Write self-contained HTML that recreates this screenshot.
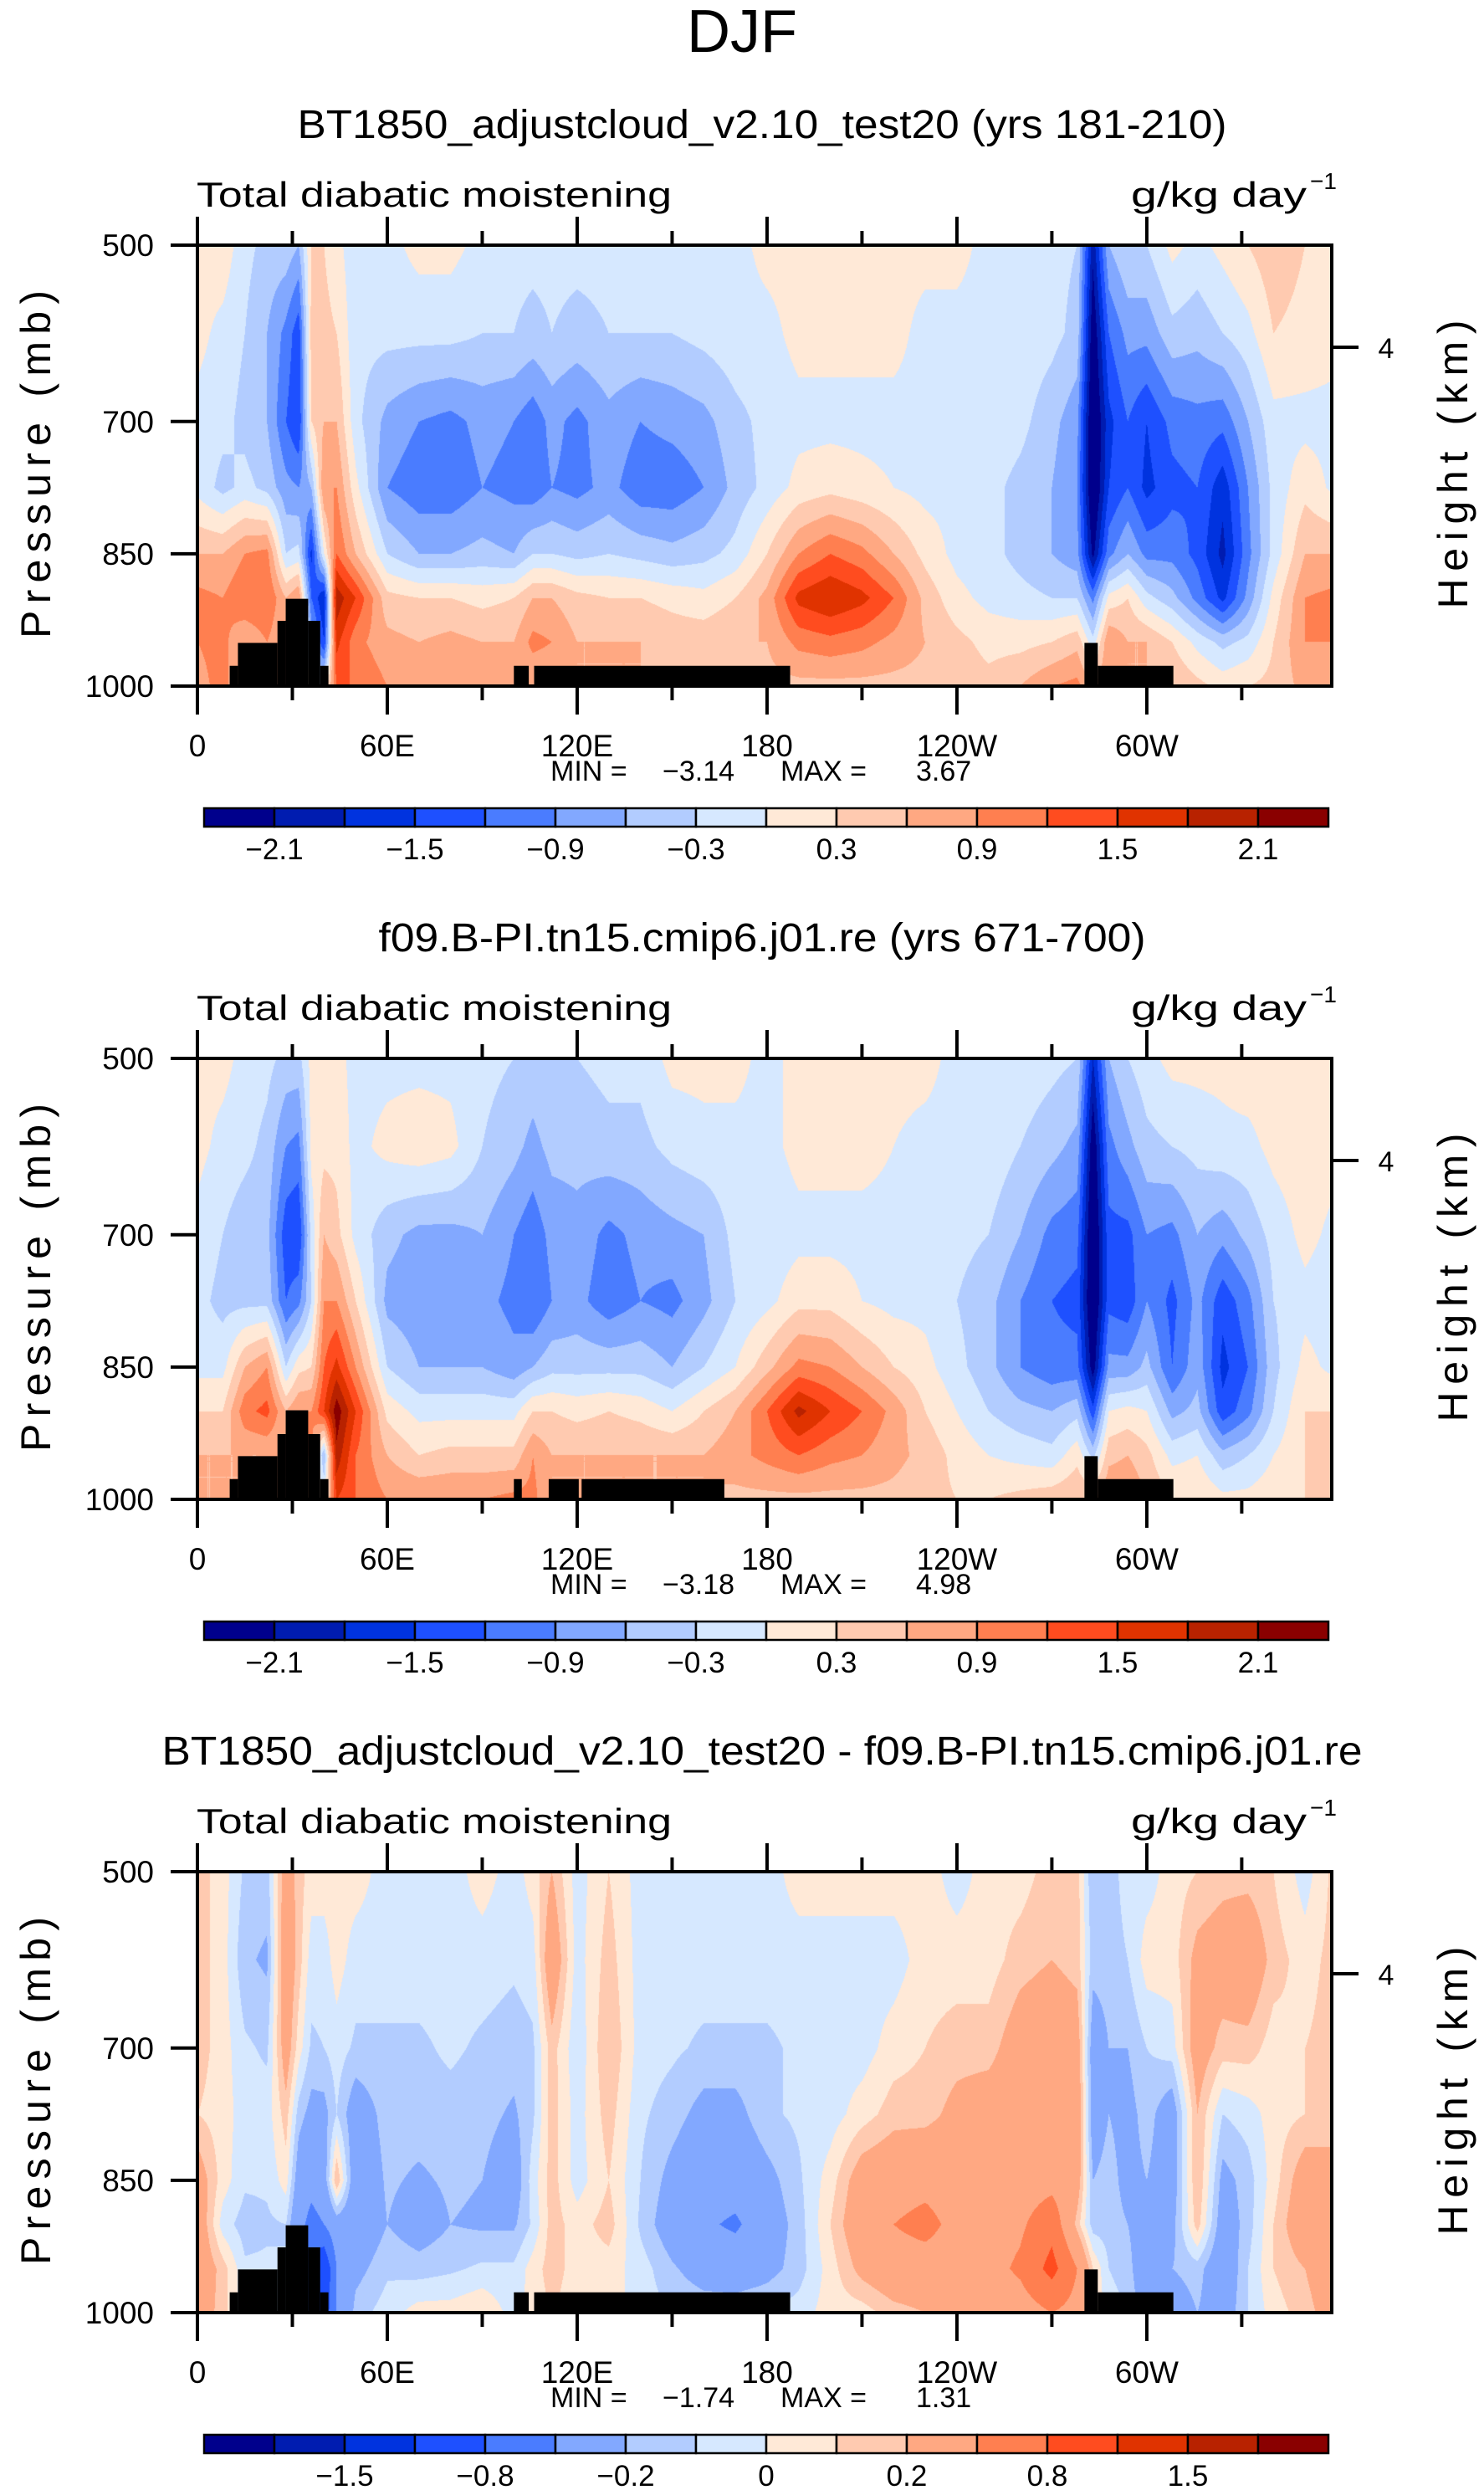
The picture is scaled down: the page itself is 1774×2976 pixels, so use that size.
<!DOCTYPE html>
<html><head><meta charset="utf-8">
<style>
html,body{margin:0;padding:0;background:#fff;}
body{position:relative;width:1774px;height:2976px;overflow:hidden;font-family:"Liberation Sans",sans-serif;}
canvas{position:absolute;}
svg{position:absolute;left:0;top:0;}
</style></head>
<body>
<canvas id="c0" width="1356" height="527" style="left:236px;top:293px"></canvas>
<canvas id="c1" width="1356" height="527" style="left:236px;top:1265px"></canvas>
<canvas id="c2" width="1356" height="527" style="left:236px;top:2237px"></canvas>
<svg id="ov" width="1774" height="2976" xmlns="http://www.w3.org/2000/svg">
<text x="887" y="62" text-anchor="middle" font-size="72" font-family="Liberation Sans, sans-serif" fill="#000">DJF</text>
</svg>
<script>
const LONS=[0,8,15,22,28,32,36,40,44,50,60,70,80,90,100,106,112,120,130,140,150,160,170,180,190,200,210,220,230,240,250,260,270,278,283,288,294,300,308,316,324,332,340,350,360];
const PRES=[500,600,700,775,850,900,950,1000];
const VALS_TOP=[
[0.1,0.1,-0.1,-0.1,0.6,1.0,0.9,0.8],
[0.2,-0.1,-0.2,-0.4,0.6,0.9,1.0,1.0],
[-0.2,-0.3,-0.4,-0.2,0.9,1.2,0.6,0.6],
[-0.4,-0.6,-0.6,-0.4,1.0,1.2,0.9,0.6],
[-0.4,-1.0,-1.2,-0.8,-0.3,0.6,0.6,0.6],
[-0.6,-1.4,-1.5,-0.9,-0.2,0.9,1.0,0.6],
[0.3,0.4,0.3,-0.6,-1.6,-1.2,-0.6,0],
[0.3,0.4,0.6,0.9,0,-1.8,-1.5,0],
[0.1,0.3,0.6,0.9,1.2,2.0,1.6,1.2],
[-0.2,-0.2,-0.2,0.1,0.6,1.5,1.0,1.2],
[-0.1,-0.2,-0.7,-0.9,-0.3,0.4,0.7,0.9],
[0.1,-0.2,-0.9,-1.1,-0.6,0.3,0.6,0.9],
[0.1,-0.2,-1.0,-1.1,-0.6,0.3,0.7,0.9],
[-0.1,-0.3,-0.8,-0.9,-0.5,0.2,0.6,0.9],
[-0.2,-0.3,-0.9,-1.0,-0.6,0.3,0.6,0.9],
[-0.2,-0.4,-1.1,-1.1,-0.3,0.6,1.0,0.6],
[-0.2,-0.3,-0.8,-0.9,-0.3,0.6,0.9,0.6],
[-0.2,-0.4,-1.0,-1.0,-0.4,0.4,0.6,0.6],
[-0.2,-0.3,-0.7,-0.8,-0.3,0.3,0.6,0.6],
[-0.2,-0.3,-0.9,-1.1,-0.4,0.3,0.6,0.6],
[-0.2,-0.3,-0.8,-1.1,-0.5,0.2,0.5,0.6],
[-0.1,-0.2,-0.7,-0.9,-0.4,0.1,0.5,0.6],
[-0.1,-0.1,-0.4,-0.5,-0.2,0.3,0.6,0.6],
[0.1,-0.1,-0.2,-0.2,0.3,0.7,0.6,0.5],
[0.1,0.1,-0.1,0.1,0.9,1.6,1.0,0.5],
[0.2,0.1,-0.1,0.2,1.2,1.8,1.1,0.5],
[0.1,0.1,-0.1,0.1,1.0,1.6,1.0,0.5],
[0.1,0.1,-0.1,0,0.6,1.2,0.8,0.5],
[0.1,-0.1,-0.1,-0.1,0.2,0.5,0.6,0.5],
[0.1,-0.1,-0.1,-0.1,-0.1,0.1,0.4,0.5],
[-0.1,-0.1,-0.1,-0.2,-0.2,-0.1,0.2,0.4],
[-0.1,-0.1,-0.2,-0.4,-0.4,-0.2,0.2,0.6],
[-0.2,-0.2,-0.5,-0.6,-0.6,-0.3,0.3,0.9],
[-0.3,-0.4,-0.8,-0.9,-0.8,-0.3,0.5,1.0],
[-2.0,-2.4,-2.6,-2.6,-2.2,-1.0,-0.2,0.6],
[-0.6,-1.2,-1.6,-1.5,-1.0,0.1,0.9,0.9],
[-0.3,-0.8,-1.2,-1.2,-0.6,0.3,0.6,0.6],
[-0.3,-0.8,-1.5,-1.6,-1.0,-0.2,0.6,0.6],
[0.1,-0.4,-1.1,-1.3,-1.0,-0.5,0.3,0.6],
[-0.1,-0.5,-1.0,-1.2,-1.3,-1.0,-0.1,0.4],
[0.1,-0.3,-1.1,-1.7,-1.9,-1.6,-0.4,0.2],
[0.3,-0.1,-0.6,-0.9,-1.0,-0.8,-0.2,0.3],
[0.5,0.3,-0.1,-0.2,-0.2,0.1,0.3,0.4],
[0.3,0.2,-0.1,0.2,0.6,0.9,0.9,0.7],
[0.1,0.1,-0.1,-0.1,0.6,1.0,0.9,0.8]];
const VALS_MID=[
[0.1,0.1,-0.1,-0.2,-0.1,0.3,0.6,0.6],
[0.1,-0.1,-0.3,-0.4,-0.1,0.3,0.6,0.6],
[-0.1,-0.2,-0.5,-0.4,0.6,1.1,0.6,0.6],
[-0.2,-0.4,-0.5,-0.4,0.9,1.3,0.6,0.6],
[-0.4,-0.9,-1.4,-1.2,-0.3,0.6,0.6,0.6],
[-0.4,-1.0,-1.5,-1.0,0.2,0.9,0.6,0.6],
[0.1,0.1,-0.2,-0.3,0.3,0.9,1.0,0.6],
[0.1,0.2,0.6,0.9,1.2,1.5,-0.6,0],
[0.1,0.2,0.4,0.9,1.6,2.3,2.0,1.5],
[-0.1,-0.1,-0.1,0.3,0.9,1.5,1.2,1.2],
[-0.1,0.1,-0.5,-0.7,-0.3,0.2,0.6,0.9],
[-0.1,0.2,-0.7,-0.8,-0.6,-0.1,0.3,0.9],
[-0.1,0.1,-0.7,-0.8,-0.6,-0.1,0.4,0.9],
[-0.2,-0.3,-0.6,-0.8,-0.6,-0.1,0.4,0.9],
[-0.3,-0.5,-0.9,-1.0,-0.8,-0.1,0.4,1.0],
[-0.4,-0.7,-1.1,-1.2,-0.6,0.3,0.9,1.0],
[-0.3,-0.5,-0.8,-0.9,-0.4,0.3,0.6,0.6],
[-0.3,-0.5,-0.7,-0.8,-0.4,0.2,0.6,0.6],
[-0.2,-0.4,-1.0,-1.1,-0.4,0.3,0.6,0.6],
[-0.2,-0.4,-0.8,-0.9,-0.4,0.2,0.6,0.6],
[0.1,-0.2,-0.7,-1.0,-0.6,0,0.6,0.6],
[0.1,-0.1,-0.6,-0.7,-0.3,0.3,0.6,0.6],
[0.1,-0.1,-0.2,-0.3,0,0.6,0.8,0.5],
[-0.1,-0.1,-0.2,-0.1,0.5,1.2,1.0,0.5],
[0.1,0.1,-0.1,0.2,1.0,1.9,1.2,0.5],
[0.1,0.1,-0.1,0.2,0.9,1.5,1.0,0.5],
[0.1,0.1,-0.1,0,0.6,1.2,0.9,0.5],
[0.1,0,-0.1,-0.1,0.3,0.8,0.7,0.5],
[0.1,-0.1,-0.1,-0.1,0.1,0.3,0.5,0.4],
[-0.1,-0.1,-0.2,-0.3,-0.2,0,0.2,0.3],
[-0.1,-0.1,-0.3,-0.5,-0.5,-0.3,0,0.3],
[-0.1,-0.3,-0.6,-0.9,-0.9,-0.5,-0.1,0.4],
[-0.2,-0.5,-1.0,-1.2,-1.1,-0.6,-0.2,0.5],
[-0.3,-0.7,-1.1,-1.3,-1.1,-0.4,0.2,0.6],
[-1.8,-2.4,-2.6,-2.6,-2.3,-1.4,-0.4,0.6],
[-0.6,-1.0,-1.3,-1.3,-0.8,0,0.5,0.9],
[-0.3,-0.7,-1.3,-1.4,-0.8,0.1,0.6,0.9],
[-0.1,-0.4,-0.9,-0.9,-0.5,0,0.4,0.6],
[0.1,-0.3,-1.0,-1.3,-1.2,-0.7,-0.1,0.3],
[0.1,-0.2,-0.6,-0.8,-0.7,-0.5,0,0.3],
[0.1,-0.1,-0.8,-1.4,-1.6,-1.4,-0.5,0.1],
[0.2,-0.1,-0.5,-1.0,-1.2,-1.0,-0.3,0.1],
[0.2,0.1,-0.2,-0.3,-0.4,-0.3,0,0.2],
[0.3,0.2,0.1,-0.1,0.1,0.3,0.3,0.3],
[0.1,0.1,-0.1,-0.2,-0.1,0.3,0.6,0.6]];
const VALS_DIFF=[
[0.15,0.15,0.15,0.1,0.3,0.35,0.35,0.3],
[0.05,0.05,0.05,0.05,0.05,-0.05,0.15,0.15],
[-0.12,-0.18,-0.08,-0.05,-0.08,-0.15,-0.08,-0.08],
[-0.15,-0.22,-0.12,-0.05,-0.08,-0.12,-0.08,-0.08],
[0.3,0.35,0.3,0.15,0.05,-0.1,-0.1,-0.1],
[0.15,0.15,0.05,-0.15,-0.3,-0.4,-0.3,-0.3],
[0.05,-0.05,-0.12,-0.25,-0.4,-0.6,-0.9,-0.9],
[0.05,-0.05,-0.1,-0.25,-0.3,-0.5,-1.1,-1.0],
[0.05,0.05,-0.05,-0.1,0.2,-0.3,-0.5,-0.5],
[0.05,-0.05,-0.12,-0.3,-0.35,-0.35,-0.25,-0.15],
[-0.05,-0.05,-0.12,-0.15,-0.18,-0.2,-0.12,-0.05],
[-0.05,-0.05,-0.12,-0.15,-0.22,-0.28,-0.15,0.05],
[-0.05,-0.05,-0.08,-0.14,-0.18,-0.2,-0.12,0.05],
[0.05,-0.05,-0.12,-0.16,-0.2,-0.22,-0.08,0.1],
[-0.05,-0.08,-0.15,-0.22,-0.3,-0.22,-0.08,-0.05],
[0.05,-0.05,-0.12,-0.12,-0.05,-0.08,0.05,0.05],
[0.2,0.35,0.15,0.15,0.15,0.15,0.15,0.1],
[-0.05,-0.05,-0.08,-0.05,-0.05,0.05,0.05,0.05],
[0.1,0.15,0.2,0.15,0.1,0.15,0.05,0.05],
[-0.05,-0.05,-0.05,-0.08,-0.1,-0.12,-0.05,-0.05],
[-0.05,-0.05,-0.08,-0.15,-0.25,-0.3,-0.18,-0.1],
[-0.05,-0.05,-0.12,-0.25,-0.35,-0.45,-0.28,-0.12],
[-0.05,-0.05,-0.12,-0.25,-0.35,-0.55,-0.3,-0.12],
[-0.05,-0.05,-0.12,-0.12,-0.25,-0.3,-0.25,-0.1],
[0.05,-0.05,-0.08,-0.08,-0.12,-0.15,-0.15,-0.05],
[0.05,-0.05,-0.05,-0.05,0.05,0.1,0.05,0.05],
[0.05,-0.05,-0.05,0.05,0.3,0.35,0.25,0.05],
[0.05,-0.05,0.05,0.15,0.35,0.5,0.35,0.15],
[0.05,0.05,0.1,0.15,0.4,0.6,0.35,0.2],
[-0.05,0.05,0.15,0.25,0.35,0.4,0.35,0.2],
[0.05,0.05,0.15,0.3,0.35,0.35,0.4,0.3],
[0.05,0.15,0.3,0.35,0.35,0.45,0.55,0.35],
[0.15,0.2,0.35,0.4,0.4,0.7,0.9,0.5],
[0.15,0.15,0.3,0.35,0.3,0.15,0.5,0.4],
[-0.2,-0.15,-0.3,-0.3,-0.2,-0.15,0.1,0.1],
[-0.15,-0.15,-0.2,-0.2,-0.15,-0.15,-0.1,-0.05],
[-0.05,-0.1,-0.2,-0.25,-0.25,-0.2,-0.15,-0.1],
[-0.05,0.05,-0.1,-0.15,-0.2,-0.3,-0.35,-0.3],
[0.05,0.05,-0.05,-0.3,-0.3,-0.25,-0.2,-0.3],
[0.1,0.25,0.3,0.2,0.2,0.15,-0.15,-0.2],
[0.15,0.3,0.15,-0.1,-0.25,-0.3,-0.35,-0.3],
[0.15,0.35,0.15,-0.05,-0.15,-0.15,-0.1,-0.1],
[0.1,0.15,0.05,0.05,0.05,0.1,0.1,0.05],
[-0.05,0.05,0.1,0.1,0.3,0.35,0.2,0.15],
[0.15,0.15,0.15,0.1,0.3,0.35,0.35,0.3]];
const LEVELS_A=[-2.1,-1.8,-1.5,-1.2,-0.9,-0.6,-0.3,0,0.3,0.6,0.9,1.2,1.5,1.8,2.1];
const LEVELS_D=[-1.8,-1.5,-1.2,-0.8,-0.5,-0.2,-0.1,0,0.1,0.2,0.5,0.8,1.2,1.5,1.8];
const CB_LABELS_A=["\u22122.1","\u22121.5","\u22120.9","\u22120.3","0.3","0.9","1.5","2.1"];
const CB_LABEL_IDX_A=[1,3,5,7,9,11,13,15];
const CB_LABELS_D=["\u22121.5","\u22120.8","\u22120.2","0","0.2","0.8","1.5"];
const CB_LABEL_IDX_D=[2,4,6,8,10,12,14];
const MASK_A=[[10.2,12.8,977],[12.8,25.3,951],[25.3,27.9,926],[27.9,35.0,901],[35.0,38.8,926],[38.8,41.4,977],[100,104.7,977],[106.4,187.3,977],[280.3,284.5,951],[284.5,308.4,977]];
const MASK_B=[[10.2,12.8,977],[12.8,25.3,951],[25.3,27.9,926],[27.9,35.0,899],[35.0,38.8,926],[38.8,41.4,977],[100,102.5,977],[111,120.5,977],[121.4,166.5,977],[280.3,284.5,951],[284.5,308.4,977]];
const COLORS=['#00008c','#001cb0','#0033df','#1e50ff','#4a7cff','#82a8ff','#b2ccff','#d6e8ff','#ffe9d7','#ffcab0','#ffa882','#ff7f50','#ff4c1f','#e03300','#b82200','#8a0000'];
const TITLES=["BT1850_adjustcloud_v2.10_test20 (yrs 181-210)","f09.B-PI.tn15.cmip6.j01.re (yrs 671-700)","BT1850_adjustcloud_v2.10_test20 - f09.B-PI.tn15.cmip6.j01.re"];
const TITLE_W=[1111,917,1435];
const MINS=["\u22123.14","\u22123.18","\u22121.74"];
const MAXS=["3.67","4.98","1.31"];
const XTICK_LON=[0,60,120,180,240,300];
const XTICK_LAB=["0","60E","120E","180","120W","60W"];
const YTICK_P=[500,700,850,1000];

const PX0=236,PW=1356,PH=527,DEG=3.783;
function lonToX(l){return PX0+l*DEG;}
function pToY(top,p){return top+(p-500)/500*PH;}
function hexRgb(h){return [parseInt(h.slice(1,3),16),parseInt(h.slice(3,5),16),parseInt(h.slice(5,7),16)];}
function seg(arr,v){let i=0;while(i<arr.length-2&&v>arr[i+1])i++;return [i,(v-arr[i])/(arr[i+1]-arr[i])];}
function render(cv,vals,levels){
  const ctx=cv.getContext('2d');const img=ctx.createImageData(PW,PH);const rgb=COLORS.map(hexRgb);
  const ys=[];for(let y=0;y<PH;y++){ys.push(seg(PRES,500+(y+0.5)/PH*500));}
  for(let x=0;x<PW;x++){
    const [i,t]=seg(LONS,(x+0.5)/DEG);
    for(let y=0;y<PH;y++){
      const [j,u]=ys[y];
      const a=vals[i][j]*(1-t)+vals[i+1][j]*t;
      const b=vals[i][j+1]*(1-t)+vals[i+1][j+1]*t;
      const v=a*(1-u)+b*u;
      let k=0;while(k<levels.length&&v>=levels[k])k++;
      const c=rgb[k];const o=(y*PW+x)*4;
      img.data[o]=c[0];img.data[o+1]=c[1];img.data[o+2]=c[2];img.data[o+3]=255;
    }
  }
  ctx.putImageData(img,0,0);
}
const NS='http://www.w3.org/2000/svg';
const ov=document.getElementById('ov');
function mk(tag,attrs,txt){const e=document.createElementNS(NS,tag);for(const k in attrs)e.setAttribute(k,attrs[k]);if(txt!==undefined)e.textContent=txt;ov.appendChild(e);return e;}

const PANELS=[{top:293,vals:VALS_TOP,levels:LEVELS_A,mask:MASK_A,labs:CB_LABELS_A,idx:CB_LABEL_IDX_A},
{top:1265,vals:VALS_MID,levels:LEVELS_A,mask:MASK_B,labs:CB_LABELS_A,idx:CB_LABEL_IDX_A},
{top:2237,vals:VALS_DIFF,levels:LEVELS_D,mask:MASK_A,labs:CB_LABELS_D,idx:CB_LABEL_IDX_D}];

PANELS.forEach((P,n)=>{
  render(document.getElementById('c'+n),P.vals,P.levels);
  const T=P.top, off=T-293;
  let e;
  e=mk('text',{x:911,y:165+off,'text-anchor':'middle','font-size':48,'font-family':'Liberation Sans, sans-serif',textLength:TITLE_W[n],lengthAdjust:'spacingAndGlyphs'},TITLES[n]);
  
  
  e=mk('text',{x:235,y:247+off,'font-size':42,'font-family':'Liberation Sans, sans-serif',textLength:568,lengthAdjust:'spacingAndGlyphs'},'Total diabatic moistening');
  
  
  e=mk('text',{x:1352,y:247+off,'font-size':42,'font-family':'Liberation Sans, sans-serif',textLength:210,lengthAdjust:'spacingAndGlyphs'},'g/kg day');
  
  
  e=mk('text',{x:1566,y:226+off,'font-size':28,'font-family':'Liberation Sans, sans-serif'},'\u22121');
  
  
  P.mask.forEach(m=>{
    const r=mk('rect',{x:lonToX(m[0]),y:pToY(T,m[2]),width:(m[1]-m[0])*DEG,height:pToY(T,1000)-pToY(T,m[2]),fill:'#000'});
    
    
  });
  e=mk('rect',{x:PX0,y:T,width:PW,height:PH,fill:'none',stroke:'#000','stroke-width':4});
  
  
  for(let l=0;l<360;l+=30){
    const major=l%60===0, len=major?34:17, x=lonToX(l);
    e=mk('line',{x1:x,x2:x,y1:T+PH,y2:T+PH+len,stroke:'#000','stroke-width':4});
    
    
    e=mk('line',{x1:x,x2:x,y1:T,y2:T-len,stroke:'#000','stroke-width':4});
    
    
  }
  XTICK_LON.forEach((l,i)=>{
    const t=mk('text',{x:lonToX(l),y:T+PH+84,'text-anchor':'middle','font-size':37,'font-family':'Liberation Sans, sans-serif'},XTICK_LAB[i]);
    
    
  });
  YTICK_P.forEach(p=>{
    const y=pToY(T,p);
    let t=mk('line',{x1:PX0,x2:PX0-32,y1:y,y2:y,stroke:'#000','stroke-width':4});
    
    
    t=mk('text',{x:184,y:y+13,'text-anchor':'end','font-size':37,'font-family':'Liberation Sans, sans-serif'},String(p));
    
    
  });
  e=mk('line',{x1:PX0+PW,x2:PX0+PW+32,y1:T+122,y2:T+122,stroke:'#000','stroke-width':4});
  
  
  e=mk('text',{x:1657,y:T+135,'text-anchor':'middle','font-size':34,'font-family':'Liberation Sans, sans-serif'},'4');
  
  
  e=mk('text',{x:0,y:0,transform:`translate(60,${T+262}) rotate(-90)`,'text-anchor':'middle','font-size':50,'font-family':'Liberation Sans, sans-serif',textLength:416,lengthAdjust:'spacing'},'Pressure (mb)');
  
  
  e=mk('text',{x:0,y:0,transform:`translate(1754,${T+262}) rotate(-90)`,'text-anchor':'middle','font-size':50,'font-family':'Liberation Sans, sans-serif',textLength:345,lengthAdjust:'spacing'},'Height (km)');
  
  
  e=mk('text',{x:658,y:933+off,'font-size':34,'font-family':'Liberation Sans, sans-serif'},'MIN =');
  
  
  e=mk('text',{x:792,y:933+off,'font-size':34,'font-family':'Liberation Sans, sans-serif'},MINS[n]);
  
  
  e=mk('text',{x:933,y:933+off,'font-size':34,'font-family':'Liberation Sans, sans-serif'},'MAX =');
  
  
  e=mk('text',{x:1095,y:933+off,'font-size':34,'font-family':'Liberation Sans, sans-serif'},MAXS[n]);
  
  
  const cbx=244, cbw=84, cby=966+off;
  COLORS.forEach((c,i)=>{
    const r=mk('rect',{x:cbx+i*cbw,y:cby,width:cbw,height:22,fill:c,stroke:'#000','stroke-width':2.5});
    
    
  });
  P.labs.forEach((s,i)=>{
    const t=mk('text',{x:cbx+P.idx[i]*cbw,y:1027+off,'text-anchor':'middle','font-size':35,'font-family':'Liberation Sans, sans-serif'},s);
    
    
  });
});
</script>
</body></html>
